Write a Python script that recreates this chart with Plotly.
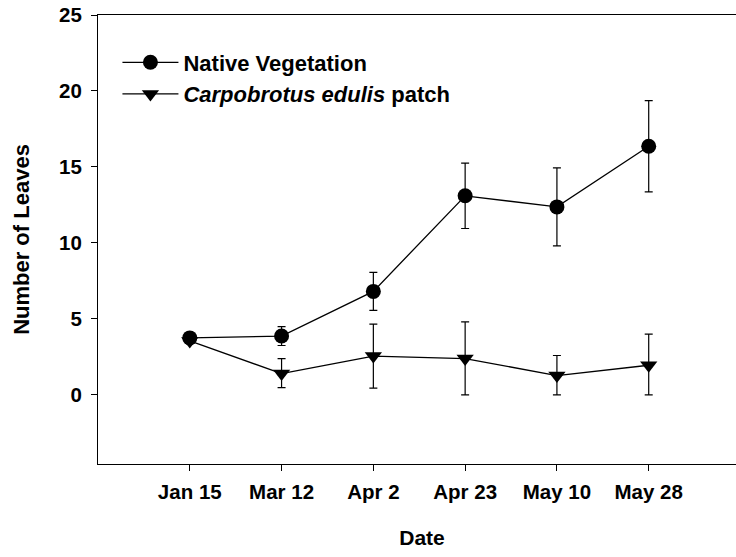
import plotly.graph_objects as go

dates = ["Jan 15", "Mar 12", "Apr 2", "Apr 23", "May 10", "May 28"]
native_mean = [3.75, 3.87, 6.81, 13.1, 12.37, 16.36]
native_err_plus = [0.0, 0.62, 1.25, 2.15, 2.57, 3.0]
native_err_minus = [0.0, 0.62, 1.25, 2.15, 2.57, 3.0]
carpo_mean = [3.55, 1.4, 2.55, 2.39, 1.27, 1.95]
carpo_err_plus = [0.0, 0.99, 2.1, 2.42, 1.32, 2.05]
carpo_err_minus = [0.0, 0.92, 2.1, 2.39, 1.27, 1.95]
y_ticks = [0, 5, 10, 15, 20, 25]

FONT = "Liberation Sans, Arial, sans-serif"
xpos = list(range(len(dates)))

fig = go.Figure()
fig.add_trace(go.Scatter(
    x=xpos, y=native_mean, mode="lines+markers", name="Native Vegetation",
    line=dict(color="black", width=1.3),
    marker=dict(symbol="circle", size=15, color="black"),
    error_y=dict(type="data", array=native_err_plus, arrayminus=native_err_minus,
                 symmetric=False, color="black", thickness=1.2, width=4),
))
fig.add_trace(go.Scatter(
    x=xpos, y=carpo_mean, mode="lines+markers",
    name="<i>Carpobrotus edulis</i> patch",
    line=dict(color="black", width=1.3),
    marker=dict(symbol="triangle-down", size=15, color="black"),
    error_y=dict(type="data", array=carpo_err_plus, arrayminus=carpo_err_minus,
                 symmetric=False, color="black", thickness=1.2, width=4),
))

fig.update_layout(
    width=746, height=557,
    margin=dict(l=98, r=0, t=15, b=93),
    paper_bgcolor="white", plot_bgcolor="white",
    font=dict(family=FONT, color="black", size=20, weight="bold"),
    showlegend=True,
    legend=dict(x=0.03, y=0.941, xanchor="left", yanchor="top",
                bgcolor="rgba(0,0,0,0)", font=dict(size=22, weight="bold"),
                itemwidth=56, tracegroupgap=0),
    xaxis=dict(
        range=[-1, 6.06], tickvals=xpos, ticktext=dates,
        showgrid=False, zeroline=False, showline=True, linecolor="black",
        linewidth=1.2, mirror=True, ticks="outside", ticklen=6, tickwidth=1,
        tickcolor="black", tickfont=dict(size=20.5, weight="bold"),
        ticklabelstandoff=3,
        title=dict(text="Date", font=dict(size=21, weight="bold"), standoff=28),
    ),
    yaxis=dict(
        range=[-4.55, 25], tickvals=y_ticks,
        showgrid=False, zeroline=False, showline=True, linecolor="black",
        linewidth=1.2, mirror=False, ticks="outside", ticklen=6, tickwidth=1,
        tickcolor="black", tickfont=dict(size=20.5, weight="bold"),
        ticklabelstandoff=5, ticklabeloverflow="allow",
        title=dict(text="Number of Leaves", font=dict(size=22, weight="bold"), standoff=23),
    ),
)

fig.write_html(
    "out.html",
    config={"displayModeBar": False},
    post_script="document.body.style.margin='0';document.body.style.overflow='hidden';",
)
